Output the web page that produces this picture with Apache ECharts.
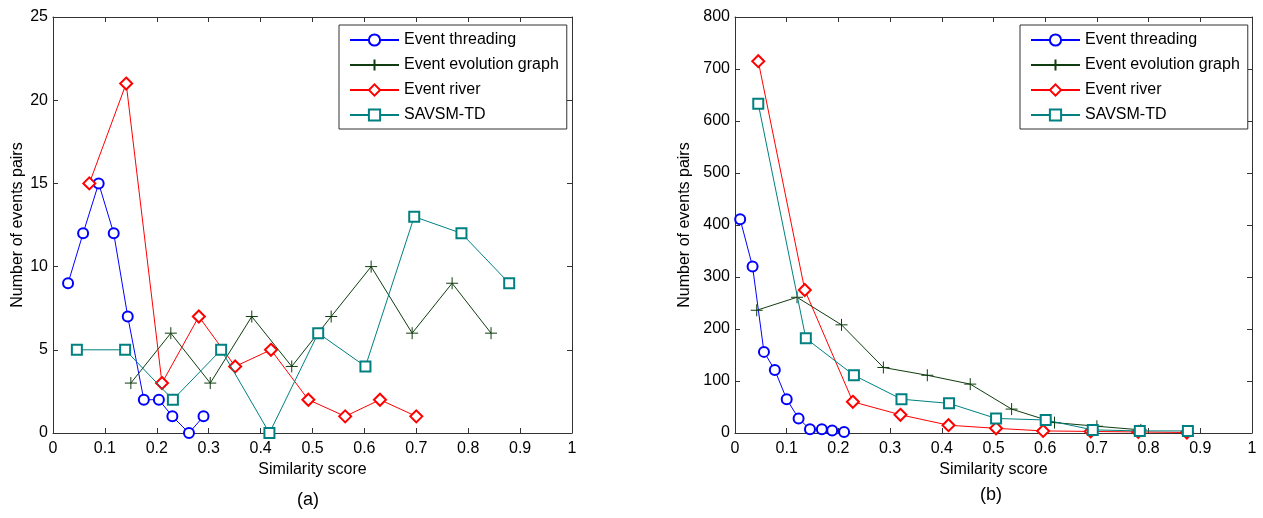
<!DOCTYPE html>
<html>
<head>
<meta charset="utf-8">
<script src="https://cdn.jsdelivr.net/npm/echarts@6/dist/echarts.min.js"></script>
<style>
  html, body { margin: 0; padding: 0; background: #fff; }
  #chart { width: 1263px; height: 518px; }
</style>
</head>
<body>
<div id="chart"></div>
<script>
// panel (a)
var aThreadX = [0.029, 0.058, 0.088, 0.117, 0.144, 0.175, 0.204, 0.23, 0.262, 0.29];
var aThreadY = [9, 12, 15, 12, 7, 2, 2, 1, 0, 1];
var aGraphX = [0.15, 0.227, 0.303, 0.383, 0.46, 0.536, 0.613, 0.692, 0.769, 0.844];
var aGraphY = [3, 6, 3, 7, 4, 7, 10, 6, 9, 6];
var aRiverX = [0.07, 0.141, 0.21, 0.281, 0.351, 0.42, 0.492, 0.563, 0.63, 0.70];
var aRiverY = [15, 21, 3, 7, 4, 5, 2, 1, 2, 1];
var aSavX = [0.046, 0.139, 0.231, 0.324, 0.417, 0.511, 0.602, 0.696, 0.787, 0.879];
var aSavY = [5, 5, 2, 5, 0, 6, 4, 13, 12, 9];

// panel (b)
var bThreadX = [0.01, 0.034, 0.056, 0.077, 0.1, 0.123, 0.145, 0.168, 0.188, 0.211];
var bThreadY = [411, 320, 156, 121, 65, 28, 7, 7, 5, 2];
var bGraphX = [0.042, 0.12, 0.206, 0.287, 0.372, 0.455, 0.535, 0.618, 0.70, 0.785];
var bGraphY = [236, 261, 208, 126, 111, 94, 46, 20, 13, 6];
var bRiverX = [0.045, 0.135, 0.228, 0.32, 0.413, 0.505, 0.596, 0.688, 0.78, 0.874];
var bRiverY = [715, 275, 60, 35, 15, 9, 4, 3, 2, 1];
var bSavX = [0.045, 0.137, 0.23, 0.322, 0.414, 0.505, 0.601, 0.692, 0.783, 0.876];
var bSavY = [633, 182, 111, 65, 57, 28, 25, 6, 4, 4];

var xTicks = { min: 0, max: 1, interval: 0.1 };
var aYMax = 25, aYStep = 5;
var bYMax = 800, bYStep = 100;

var names = ["Event threading", "Event evolution graph", "Event river", "SAVSM-TD"];
var colors = ["#0000ff", "#0f3d0f", "#ff0000", "#008080"];
var plusPath = "path://M0,5L10,5M5,0L5,10";
var symbols = ["emptyCircle", plusPath, "emptyDiamond", "emptyRect"];
var sizes = [10, 12, 12, 10];

var font = "Liberation Sans, Arial, sans-serif";
var axisColor = "#333";

function zip(xs, ys) {
  return xs.map(function (x, i) { return [x, ys[i]]; });
}

function makeSeries(idx, panel, xs, ys) {
  var isPlus = idx === 1;
  return {
    name: names[idx],
    type: "line",
    xAxisIndex: panel * 2,
    yAxisIndex: panel * 2,
    data: zip(xs, ys),
    symbol: symbols[idx],
    symbolSize: sizes[idx],
    showAllSymbol: true,
    animation: false,
    lineStyle: { color: colors[idx], width: 1 },
    itemStyle: isPlus
      ? { color: "transparent", borderColor: colors[idx], borderWidth: 1 }
      : { color: colors[idx], borderColor: colors[idx], borderWidth: 1 },
    z: 2 + idx,
  };
}

function xAxes(grid) {
  return [
    {
      type: "value", gridIndex: grid, position: "bottom",
      min: xTicks.min, max: xTicks.max, interval: xTicks.interval,
      name: "Similarity score", nameLocation: "middle", nameGap: 29,
      nameTextStyle: { fontSize: 16, color: "#000", fontFamily: font },
      axisLine: { show: true, onZero: false, lineStyle: { color: axisColor } },
      axisTick: { show: true, inside: true, length: 5, lineStyle: { color: axisColor } },
      axisLabel: { fontSize: 16, color: "#000", fontFamily: font, margin: 8 },
      splitLine: { show: false },
    },
    {
      type: "value", gridIndex: grid, position: "top",
      min: xTicks.min, max: xTicks.max, interval: xTicks.interval,
      axisLine: { show: true, onZero: false, lineStyle: { color: axisColor } },
      axisTick: { show: true, inside: true, length: 5, lineStyle: { color: axisColor } },
      axisLabel: { show: false },
      splitLine: { show: false },
    },
  ];
}

function yAxes(grid, max, step, gap) {
  return [
    {
      type: "value", gridIndex: grid, position: "left",
      min: 0, max: max, interval: step,
      name: "Number of events pairs", nameLocation: "middle", nameGap: gap,
      nameTextStyle: { fontSize: 16, color: "#000", fontFamily: font },
      axisLine: { show: true, onZero: false, lineStyle: { color: axisColor } },
      axisTick: { show: true, inside: true, length: 5, lineStyle: { color: axisColor } },
      axisLabel: { fontSize: 16, color: "#000", fontFamily: font, margin: 5 },
      splitLine: { show: false },
    },
    {
      type: "value", gridIndex: grid, position: "right",
      min: 0, max: max, interval: step,
      axisLine: { show: true, onZero: false, lineStyle: { color: axisColor } },
      axisTick: { show: true, inside: true, length: 5, lineStyle: { color: axisColor } },
      axisLabel: { show: false },
      splitLine: { show: false },
    },
  ];
}

function legend(left) {
  return {
    orient: "vertical",
    left: left, top: 25,
    data: names,
    itemWidth: 49, itemHeight: 14, itemGap: 9,
    padding: [7, 8, 6, 10],
    borderColor: "#333", borderWidth: 1,
    backgroundColor: "#fff",
    textStyle: { fontSize: 16, color: "#000", fontFamily: font },
    selectedMode: false,
  };
}

var chart = echarts.init(document.getElementById("chart"), null, { renderer: "canvas" });

chart.setOption({
  backgroundColor: "#fff",
  animation: false,
  grid: [
    { left: 53, top: 17, width: 519, height: 416 },
    { left: 735, top: 17, width: 517, height: 416 },
  ],
  xAxis: xAxes(0).concat(xAxes(1)),
  yAxis: yAxes(0, aYMax, aYStep, 27).concat(yAxes(1, bYMax, bYStep, 42)),
  legend: [legend(339), legend(1020)],
  series: [
    makeSeries(0, 0, aThreadX, aThreadY),
    makeSeries(1, 0, aGraphX, aGraphY),
    makeSeries(2, 0, aRiverX, aRiverY),
    makeSeries(3, 0, aSavX, aSavY),
    makeSeries(0, 1, bThreadX, bThreadY),
    makeSeries(1, 1, bGraphX, bGraphY),
    makeSeries(2, 1, bRiverX, bRiverY),
    makeSeries(3, 1, bSavX, bSavY),
  ],
  graphic: [
    { type: "text", left: 297, top: 491, style: { text: "(a)", fontSize: 18, fill: "#000", fontFamily: font } },
    { type: "text", left: 980, top: 486, style: { text: "(b)", fontSize: 18, fill: "#000", fontFamily: font } },
  ],
});
</script>
</body>
</html>
